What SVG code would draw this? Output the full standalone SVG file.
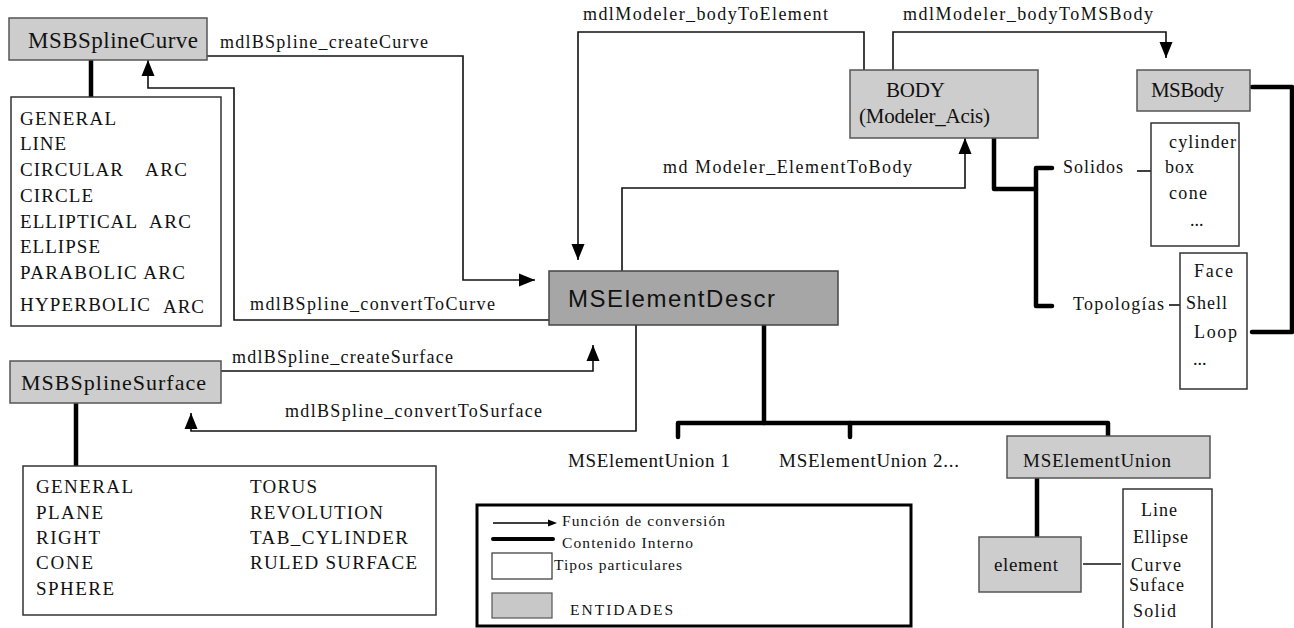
<svg xmlns="http://www.w3.org/2000/svg" width="1294" height="628" viewBox="0 0 1294 628" font-family="'Liberation Serif', 'Times New Roman', serif">
  <style>
    text { font-family: 'Liberation Serif', 'Times New Roman', serif; fill: #111; }
    text.sans { font-family: 'Liberation Sans', Arial, sans-serif; }
    .lbl { font-size: 18px; }
    .item { font-size: 19px; }
    .small { font-size: 18px; }
    .name { font-size: 22px; }
    .leg { font-size: 15.5px; }
    .ent { fill: #cdcdcd; stroke: #555; stroke-width: 1.5; }
    .ent-dark { fill: #a6a6a6; stroke: #444; stroke-width: 1.5; }
    .types { fill: #fff; stroke: #333; stroke-width: 1.5; }
    .conv { fill: none; stroke: #111; stroke-width: 1.6; }
    .conv-a { fill: none; stroke: #111; stroke-width: 1.6; marker-end: url(#arrow); }
    .own { fill: none; stroke: #000; stroke-width: 4.5; stroke-linecap: round; stroke-linejoin: round; }
  </style>
  <defs>
    <marker id="arrow" markerUnits="userSpaceOnUse" markerWidth="18" markerHeight="14" refX="16" refY="7" orient="auto">
      <path d="M0,0.5 L16,7 L0,13.5 z" fill="#000"/>
    </marker>
  </defs>

  <rect width="1294" height="628" fill="#fff"/>

  <!-- connectors -->
  <g id="connectors">
    <!-- conversion functions -->
    <path class="conv-a" d="M207,56 H463 V280 H535"/>
    <path class="conv-a" d="M549,320 H234 V88 H148 V60"/>
    <path class="conv-a" d="M864,70 V32 H578 V260"/>
    <path class="conv-a" d="M893,70 V32 H1166 V58"/>
    <path class="conv-a" d="M622,271 V188 H965 V138"/>
    <path class="conv-a" d="M221,371 H593 V345"/>
    <path class="conv-a" d="M636,325 V431 H191 V413"/>

    <!-- internal content -->
    <path class="own" d="M91,60 V98"/>
    <path class="own" d="M76,403 V467"/>
    <path class="own" d="M994,138 V189 H1036"/>
    <path class="own" d="M1052,168 H1036 V306 H1052"/>
    <path class="own" d="M1252,87 H1292 V332 H1252"/>
    <path class="own" d="M764,325 V423"/>
    <path class="own" d="M678,437 V423 H1108 V436"/>
    <path class="own" d="M850,423 V437"/>
    <path class="own" d="M1037,478 V536"/>

    <!-- plain links to type lists -->
    <path class="conv" d="M1137,171 H1152"/>
    <path class="conv" d="M1169,305 H1180"/>
    <path class="conv" d="M1083,564 H1121"/>

    <!-- labels -->
    <text class="lbl" x="220" y="48" textLength="208" lengthAdjust="spacing">mdlBSpline_createCurve</text>
    <text class="lbl" x="250" y="310" textLength="245" lengthAdjust="spacing">mdlBSpline_convertToCurve</text>
    <text class="lbl" x="583" y="20" textLength="245" lengthAdjust="spacing">mdlModeler_bodyToElement</text>
    <text class="lbl" x="903" y="20" textLength="250" lengthAdjust="spacing">mdlModeler_bodyToMSBody</text>
    <text class="lbl" x="663" y="173" textLength="249" lengthAdjust="spacing">md Modeler_ElementToBody</text>
    <text class="lbl" x="232" y="363" textLength="221" lengthAdjust="spacing">mdlBSpline_createSurface</text>
    <text class="lbl" x="285" y="417" textLength="257" lengthAdjust="spacing">mdlBSpline_convertToSurface</text>
  </g>

  <!-- MSBSplineCurve entity -->
  <g id="msbsplinecurve">
    <rect class="ent" x="9" y="18" width="198" height="42"/>
    <text x="28" y="48" font-size="23" textLength="170" lengthAdjust="spacing">MSBSplineCurve</text>
  </g>

  <!-- curve types -->
  <g id="curve-types">
    <rect class="types" x="11" y="97" width="210" height="229"/>
    <text class="item" x="20" y="125" textLength="96" lengthAdjust="spacing">GENERAL</text>
    <text class="item" x="20" y="150" textLength="46" lengthAdjust="spacing">LINE</text>
    <text class="item" x="20" y="176" textLength="103" lengthAdjust="spacing">CIRCULAR</text>
    <text class="item" x="145" y="176" textLength="42" lengthAdjust="spacing">ARC</text>
    <text class="item" x="20" y="202" textLength="73" lengthAdjust="spacing">CIRCLE</text>
    <text class="item" x="20" y="228" textLength="117" lengthAdjust="spacing">ELLIPTICAL</text>
    <text class="item" x="149" y="228" textLength="42" lengthAdjust="spacing">ARC</text>
    <text class="item" x="20" y="253" textLength="80" lengthAdjust="spacing">ELLIPSE</text>
    <text class="item" x="20" y="279" textLength="165" lengthAdjust="spacing">PARABOLIC ARC</text>
    <text class="item" x="20" y="311" textLength="130" lengthAdjust="spacing">HYPERBOLIC</text>
    <text class="item" x="163" y="313" textLength="41" lengthAdjust="spacing">ARC</text>
  </g>

  <!-- MSBSplineSurface entity -->
  <g id="msbsplinesurface">
    <rect class="ent" x="10" y="361" width="211" height="42"/>
    <text class="name" x="21" y="390" textLength="185" lengthAdjust="spacing">MSBSplineSurface</text>
  </g>

  <!-- surface types -->
  <g id="surface-types">
    <rect class="types" x="23" y="466" width="413" height="149"/>
    <text class="item" x="36" y="493" textLength="97" lengthAdjust="spacing">GENERAL</text>
    <text class="item" x="36" y="519" textLength="67" lengthAdjust="spacing">PLANE</text>
    <text class="item" x="36" y="544" textLength="64" lengthAdjust="spacing">RIGHT</text>
    <text class="item" x="36" y="569" textLength="57" lengthAdjust="spacing">CONE</text>
    <text class="item" x="36" y="595" textLength="78" lengthAdjust="spacing">SPHERE</text>
    <text class="item" x="250" y="493" textLength="67" lengthAdjust="spacing">TORUS</text>
    <text class="item" x="250" y="519" textLength="133" lengthAdjust="spacing">REVOLUTION</text>
    <text class="item" x="250" y="544" textLength="158" lengthAdjust="spacing">TAB_CYLINDER</text>
    <text class="item" x="250" y="569" textLength="167" lengthAdjust="spacing">RULED SURFACE</text>
  </g>

  <!-- MSElementDescr entity -->
  <g id="mselementdescr">
    <rect class="ent-dark" x="549" y="271" width="289" height="54"/>
    <text class="sans" x="568" y="307" font-size="24" textLength="207" lengthAdjust="spacing">MSElementDescr</text>
  </g>

  <!-- BODY entity -->
  <g id="body">
    <rect class="ent" x="850" y="70" width="188" height="68"/>
    <text x="886" y="97" font-size="21" textLength="59" lengthAdjust="spacing">BODY</text>
    <text x="859" y="123" font-size="21" textLength="131" lengthAdjust="spacing">(Modeler_Acis)</text>
  </g>

  <!-- MSBody entity -->
  <g id="msbody">
    <rect class="ent" x="1137" y="70" width="113" height="41"/>
    <text x="1151" y="97" font-size="21" textLength="73" lengthAdjust="spacing">MSBody</text>
  </g>

  <!-- body categories -->
  <g id="solidos">
    <text class="small" x="1063" y="173" textLength="60" lengthAdjust="spacing">Solidos</text>
  </g>
  <g id="topologias">
    <text class="small" x="1073" y="310" textLength="91" lengthAdjust="spacing">Topologías</text>
  </g>

  <!-- solid types -->
  <g id="solid-types">
    <rect class="types" x="1151" y="123" width="88" height="123"/>
    <text class="small" x="1169" y="148" textLength="67" lengthAdjust="spacing">cylinder</text>
    <text class="small" x="1165" y="173" textLength="29" lengthAdjust="spacing">box</text>
    <text class="small" x="1169" y="199" textLength="38" lengthAdjust="spacing">cone</text>
    <text class="small" x="1190" y="226">...</text>
  </g>

  <!-- topology types -->
  <g id="topology-types">
    <rect class="types" x="1180" y="253" width="67" height="136"/>
    <text class="small" x="1194" y="277" textLength="39" lengthAdjust="spacing">Face</text>
    <text class="small" x="1186" y="309" textLength="41" lengthAdjust="spacing">Shell</text>
    <text class="small" x="1194" y="338" textLength="43" lengthAdjust="spacing">Loop</text>
    <text class="small" x="1193" y="365">...</text>
  </g>

  <!-- element unions -->
  <g id="mselementunion-1">
    <text class="item" x="568" y="467" textLength="162" lengthAdjust="spacing">MSElementUnion 1</text>
  </g>
  <g id="mselementunion-2">
    <text class="item" x="779" y="467" textLength="180" lengthAdjust="spacing">MSElementUnion 2...</text>
  </g>
  <g id="mselementunion">
    <rect class="ent" x="1007" y="436" width="203" height="42"/>
    <text class="item" x="1023" y="467" textLength="148" lengthAdjust="spacing">MSElementUnion</text>
  </g>

  <!-- element entity -->
  <g id="element">
    <rect class="ent" x="979" y="537" width="102" height="55"/>
    <text class="item" x="994" y="571" textLength="64" lengthAdjust="spacing">element</text>
  </g>

  <!-- element types -->
  <g id="element-types">
    <rect class="types" x="1123" y="489" width="89" height="145"/>
    <text class="small" x="1141" y="516" textLength="36" lengthAdjust="spacing">Line</text>
    <text class="small" x="1133" y="543" textLength="55" lengthAdjust="spacing">Ellipse</text>
    <text class="small" x="1131" y="571" textLength="50" lengthAdjust="spacing">Curve</text>
    <text class="small" x="1129" y="591" textLength="55" lengthAdjust="spacing">Suface</text>
    <text class="small" x="1133" y="617" textLength="43" lengthAdjust="spacing">Solid</text>
  </g>

  <!-- legend -->
  <g id="legend">
    <rect x="477" y="505" width="434" height="121" fill="#fff" stroke="#000" stroke-width="3"/>
    <path d="M493,523 H551" stroke="#000" stroke-width="1.5" fill="none"/>
    <path d="M548,519.5 L557,523 L548,526.5 z" fill="#000"/>
    <text class="leg" x="562" y="526" textLength="163" lengthAdjust="spacing">Función de conversión</text>
    <path d="M493,539 H553" stroke="#000" stroke-width="4" stroke-linecap="round" fill="none"/>
    <text class="leg" x="562" y="548" textLength="131" lengthAdjust="spacing">Contenido Interno</text>
    <rect x="492" y="553" width="60" height="26" fill="#fff" stroke="#333" stroke-width="1.2"/>
    <text class="leg" x="554" y="570" textLength="128" lengthAdjust="spacing">Tipos particulares</text>
    <rect x="492" y="593" width="60" height="25" fill="#c8c8c8" stroke="#555" stroke-width="1.2"/>
    <text class="leg" x="570" y="615" textLength="103" lengthAdjust="spacing">ENTIDADES</text>
  </g>
</svg>
